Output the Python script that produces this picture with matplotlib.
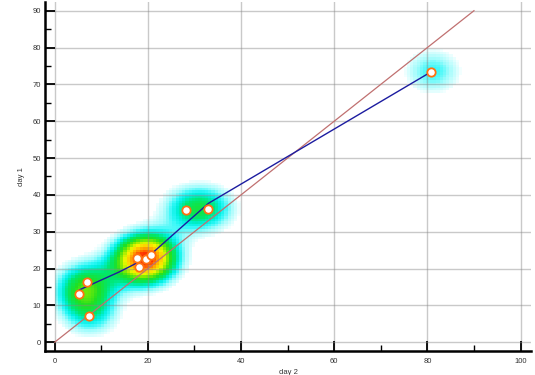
import matplotlib
matplotlib.use('Agg')
import matplotlib.pyplot as plt
import numpy as np
from matplotlib.colors import LinearSegmentedColormap
from matplotlib.ticker import MultipleLocator

plt.rcParams['font.family'] = ['Liberation Sans', 'DejaVu Sans']

# points
day2 = [5.3, 6.9, 7.3, 17.7, 18.1, 19.7, 20.6, 28.1, 33.0, 80.8]
day1 = [13.1, 16.4, 7.0, 22.8, 20.3, 22.6, 23.7, 35.8, 36.1, 73.4]

# smoothed trend line (blue)
fit_x = [5.3, 13.9, 18.1, 20.6, 33.0, 80.8]
fit_y = [14.2, 19.1, 21.8, 23.8, 37.7, 73.4]

# identity line
ident = [0, 90]

x_ticks = [0, 20, 40, 60, 80, 100]
y_ticks = [0, 10, 20, 30, 40, 50, 60, 70, 80, 90]

# density grid
gx = np.arange(0, 100, 0.7)
gy = np.arange(0, 92, 0.7)
GX, GY = np.meshgrid(gx, gy)
dens = np.zeros_like(GX)
for px, py in zip(day2, day1):
    dens += np.exp(-((GX - px) ** 2 + (GY - py) ** 2) / (2 * 4.6 ** 2))
dens = np.ma.masked_less(dens, 0.42)

vmax = 3.8
stops = [(0.0, '#ffffff'), (0.42, '#f2ffff'), (0.75, '#a0fcfc'), (1.0, '#30f8f8'),
         (1.2, '#00f0e0'), (1.5, '#00e870'), (1.9, '#20e020'), (2.3, '#90ec00'),
         (2.65, '#f8f800'), (3.0, '#ffc000'), (3.3, '#ff8000'), (3.55, '#ff3800'),
         (3.8, '#f02000')]
cmap = LinearSegmentedColormap.from_list('heat', [(v / vmax, c) for v, c in stops])

fig = plt.figure(figsize=(5.35, 3.75), dpi=100)
ax = fig.add_axes([0.084, 0.064, 0.909, 0.931])

ax.imshow(dens, cmap=cmap, vmin=0, vmax=vmax, origin='lower', extent=[0, 100, 0, 92],
          aspect='auto', interpolation='nearest', zorder=0)

ax.plot(ident, ident, color='#c07070', lw=0.9, zorder=3)
ax.plot(fit_x, fit_y, color='#1c1ca0', lw=1.0, zorder=4)
ax.plot(day2, day1, 'o', ms=6, mfc='white', mec='#ff7010', mew=1.3, zorder=5)

ax.set_xlim(-2.1, 102.3)
ax.set_ylim(-2.4, 92.4)
ax.set_xticks(x_ticks)
ax.set_yticks(y_ticks)
ax.xaxis.set_minor_locator(MultipleLocator(10))
ax.yaxis.set_minor_locator(MultipleLocator(5))
ax.grid(True, which='major', color='#888888', alpha=0.45, lw=1.0, zorder=2)

for s in ['top', 'right']:
    ax.spines[s].set_visible(False)
for s in ['left', 'bottom']:
    ax.spines[s].set_linewidth(1.8)
ax.tick_params(which='major', direction='in', length=7, width=1.3, labelsize=5.5,
               labelcolor='#333333')
ax.tick_params(axis='y', which='major', pad=3)
ax.tick_params(axis='x', which='major', pad=5)
ax.tick_params(which='minor', direction='in', length=4, width=1.0)

ax.set_xlabel('day 2', fontsize=5.5, color='#333333', labelpad=3)
ax.set_ylabel('day 1', fontsize=5.5, color='#333333', labelpad=5)

plt.savefig('out.png', dpi=100)
